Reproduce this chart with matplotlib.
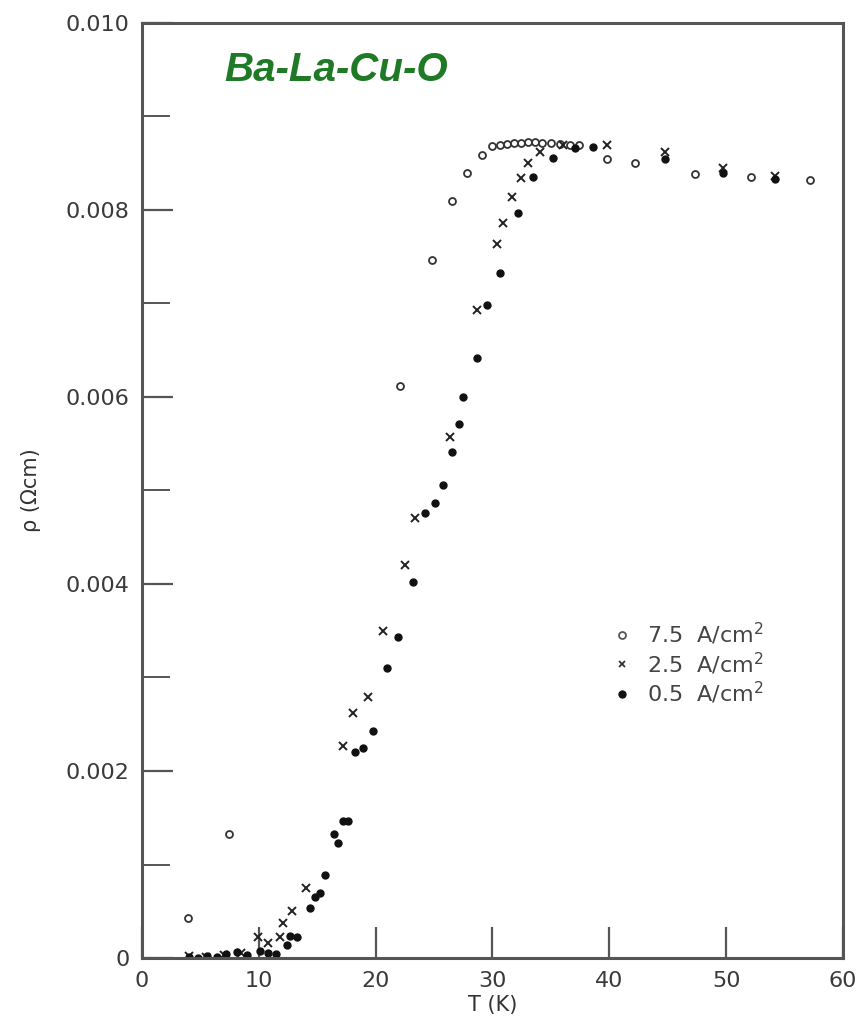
import matplotlib
matplotlib.use("Agg")
import matplotlib.pyplot as plt
from matplotlib.lines import Line2D
from matplotlib.ticker import MultipleLocator, FixedLocator

# ---- data (rho in 1e-3 ohm cm) ----
T_75 = [3.9, 7.4, 22.1, 24.8, 26.5, 27.8, 29.1, 30.0, 30.6, 31.2, 31.8, 32.4, 33.0,
        33.6, 34.2, 35.0, 35.8, 36.6, 37.4, 39.8, 42.2, 47.3, 52.1, 57.2]
R_75 = [0.43, 1.33, 6.12, 7.46, 8.10, 8.40, 8.59, 8.68, 8.70, 8.71, 8.72, 8.72, 8.73,
        8.73, 8.72, 8.72, 8.71, 8.70, 8.69, 8.55, 8.50, 8.39, 8.35, 8.32]

T_25 = [4.0, 5.5, 7.0, 8.5, 9.9, 10.8, 11.8, 12.1, 12.8, 14.0, 17.2, 18.1, 19.3, 20.6,
        22.5, 23.4, 26.4, 28.7, 30.4, 30.9, 31.7, 32.4, 33.0, 34.1, 36.0, 39.8, 44.8,
        49.7, 54.2]
R_25 = [0.02, 0.01, 0.03, 0.05, 0.22, 0.16, 0.22, 0.37, 0.50, 0.75, 2.27, 2.62, 2.79, 3.50,
        4.20, 4.71, 5.57, 6.93, 7.64, 7.86, 8.14, 8.34, 8.50, 8.62, 8.70, 8.70, 8.62,
        8.45, 8.36]

T_05 = [4.0, 4.8, 5.6, 6.4, 7.2, 8.1, 9.0, 10.1, 10.8, 11.5, 12.4, 12.7, 13.3, 14.4, 14.8,
        15.2, 15.7, 16.4, 16.8, 17.2, 17.6, 18.2, 18.9, 19.8, 21.0, 21.9, 23.2, 24.2, 25.1,
        25.8, 26.5, 27.1, 27.5, 28.7, 29.5, 30.6, 32.2, 33.5, 35.2, 37.1, 38.6, 44.8, 49.7,
        54.2]
R_05 = [0.01, 0.00, 0.02, 0.01, 0.04, 0.06, 0.03, 0.08, 0.05, 0.04, 0.14, 0.24, 0.22, 0.53,
        0.65, 0.70, 0.89, 1.33, 1.23, 1.47, 1.47, 2.20, 2.25, 2.43, 3.10, 3.43, 4.02, 4.76,
        4.87, 5.06, 5.41, 5.71, 6.00, 6.42, 6.98, 7.33, 7.97, 8.35, 8.56, 8.66, 8.67, 8.55,
        8.40, 8.33]

legend_labels = ["7.5  A/cm$^2$", "2.5  A/cm$^2$", "0.5  A/cm$^2$"]
x_ticks = [0, 10, 20, 30, 40, 50, 60]
y_ticks = [0, 0.002, 0.004, 0.006, 0.008, 0.010]
y_tick_labels = ["0", "0.002", "0.004", "0.006", "0.008", "0.010"]

plt.rcParams['font.family'] = ['DejaVu Sans']

fig = plt.figure(figsize=(8.61, 10.21), dpi=100)
ax = fig.add_axes([0.165, 0.0617, 0.814, 0.9158])

scale = 1e-3
ax.plot(T_75, [r * scale for r in R_75], linestyle='none', marker='o', markersize=5,
        markerfacecolor='white', markeredgecolor='#333333', markeredgewidth=1.3)
ax.plot(T_25, [r * scale for r in R_25], linestyle='none', marker='x', markersize=5.5,
        color='#222222', markeredgewidth=1.4)
ax.plot(T_05, [r * scale for r in R_05], linestyle='none', marker='o', markersize=5,
        color='#111111')

ax.set_xlim(0, 60)
ax.set_ylim(0, 0.010)
ax.xaxis.set_major_locator(FixedLocator(x_ticks))
ax.set_xticklabels([str(t) for t in x_ticks])
ax.yaxis.set_major_locator(FixedLocator(y_ticks))
ax.set_yticklabels(y_tick_labels)
ax.yaxis.set_minor_locator(MultipleLocator(0.001))

ax.tick_params(axis='both', which='major', direction='in', length=22, width=1.6,
               colors='#555555', labelsize=16, labelcolor='#3a3a3a', pad=9,
               top=False, right=False)
ax.tick_params(axis='y', which='minor', direction='in', length=20, width=1.4,
               colors='#555555', right=False)
for s in ax.spines.values():
    s.set_color('#555555')
    s.set_linewidth(2.2)

ax.set_xlabel("T (K)", fontsize=15, color='#333333', labelpad=3)
ax.set_ylabel("ρ (Ωcm)", fontsize=15, color='#333333', labelpad=18)

ax.text(0.118, 0.95, "Ba-La-Cu-O", transform=ax.transAxes, fontsize=29,
        fontweight='bold', fontstyle='italic', color='#1e7a24',
        family='Liberation Sans', ha='left', va='center')

handles = [
    Line2D([], [], linestyle='none', marker='o', markersize=5, markerfacecolor='white',
           markeredgecolor='#555555', markeredgewidth=1.3),
    Line2D([], [], linestyle='none', marker='x', markersize=5, color='#333333',
           markeredgewidth=1.3),
    Line2D([], [], linestyle='none', marker='o', markersize=5, color='#111111'),
]
leg = ax.legend(handles, legend_labels, loc='upper left', bbox_to_anchor=(0.644, 0.382),
                frameon=False, fontsize=16, handlelength=0.8, handletextpad=0.7,
                labelspacing=0.15, borderpad=0.4)
for t in leg.get_texts():
    t.set_color('#444444')

fig.savefig("out.png", dpi=100)
